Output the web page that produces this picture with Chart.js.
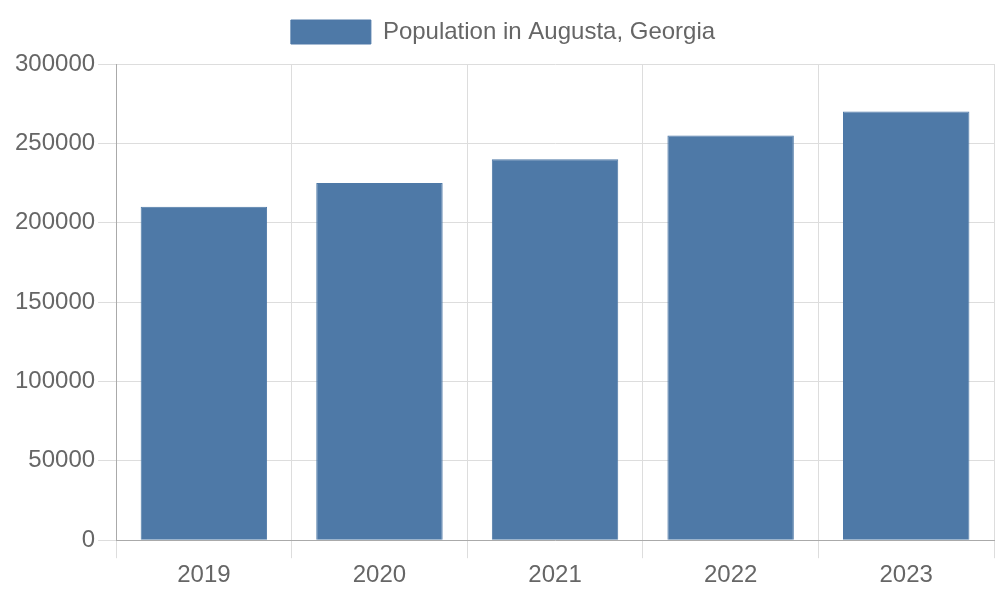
<!DOCTYPE html>
<html>
<head>
<meta charset="utf-8">
<script src="https://cdn.jsdelivr.net/npm/chart.js@4/dist/chart.umd.min.js"></script>
<style>
  html, body { margin: 0; padding: 0; background: #fff; }
  #wrap { width: 1000px; height: 600px; }
</style>
</head>
<body>
<div id="wrap"><canvas id="chart"></canvas></div>
<script>
const years = ['2019', '2020', '2021', '2022', '2023'];
const population = [210000, 225000, 240000, 255000, 270000];
const seriesLabel = 'Population in Augusta, Georgia';

Chart.defaults.font.family = '"Liberation Sans", Arial, sans-serif';
Chart.defaults.font.size = 24;
Chart.defaults.color = '#666';

// a bit more room under the legend
const legendMargin = {
  id: 'legendMargin',
  beforeInit(chart) {
    const fit = chart.legend.fit;
    chart.legend.fit = function () {
      fit.bind(chart.legend)();
      this.height += 10;
    };
  }
};

new Chart(document.getElementById('chart'), {
  type: 'bar',
  data: {
    labels: years,
    datasets: [{
      label: seriesLabel,
      data: population,
      backgroundColor: '#4e79a7',
      borderColor: '#4e79a7',
      borderWidth: 1
    }]
  },
  options: {
    responsive: true,
    maintainAspectRatio: false,
    animation: false,
    layout: { padding: { top: 5, left: 12, right: 6, bottom: 7 } },
    plugins: {
      legend: {
        labels: { boxWidth: 80, padding: 15 }
      },
      tooltip: { enabled: false }
    },
    scales: {
      x: {
        grid: { color: '#ddd', tickLength: 18 },
        border: { color: '#aaa' }
      },
      y: {
        min: 0,
        max: 300000,
        ticks: { stepSize: 50000, callback: v => String(v) },
        grid: { color: '#ddd', tickLength: 18 },
        border: { color: '#aaa' }
      }
    }
  },
  plugins: [legendMargin]
});
</script>
</body>
</html>
